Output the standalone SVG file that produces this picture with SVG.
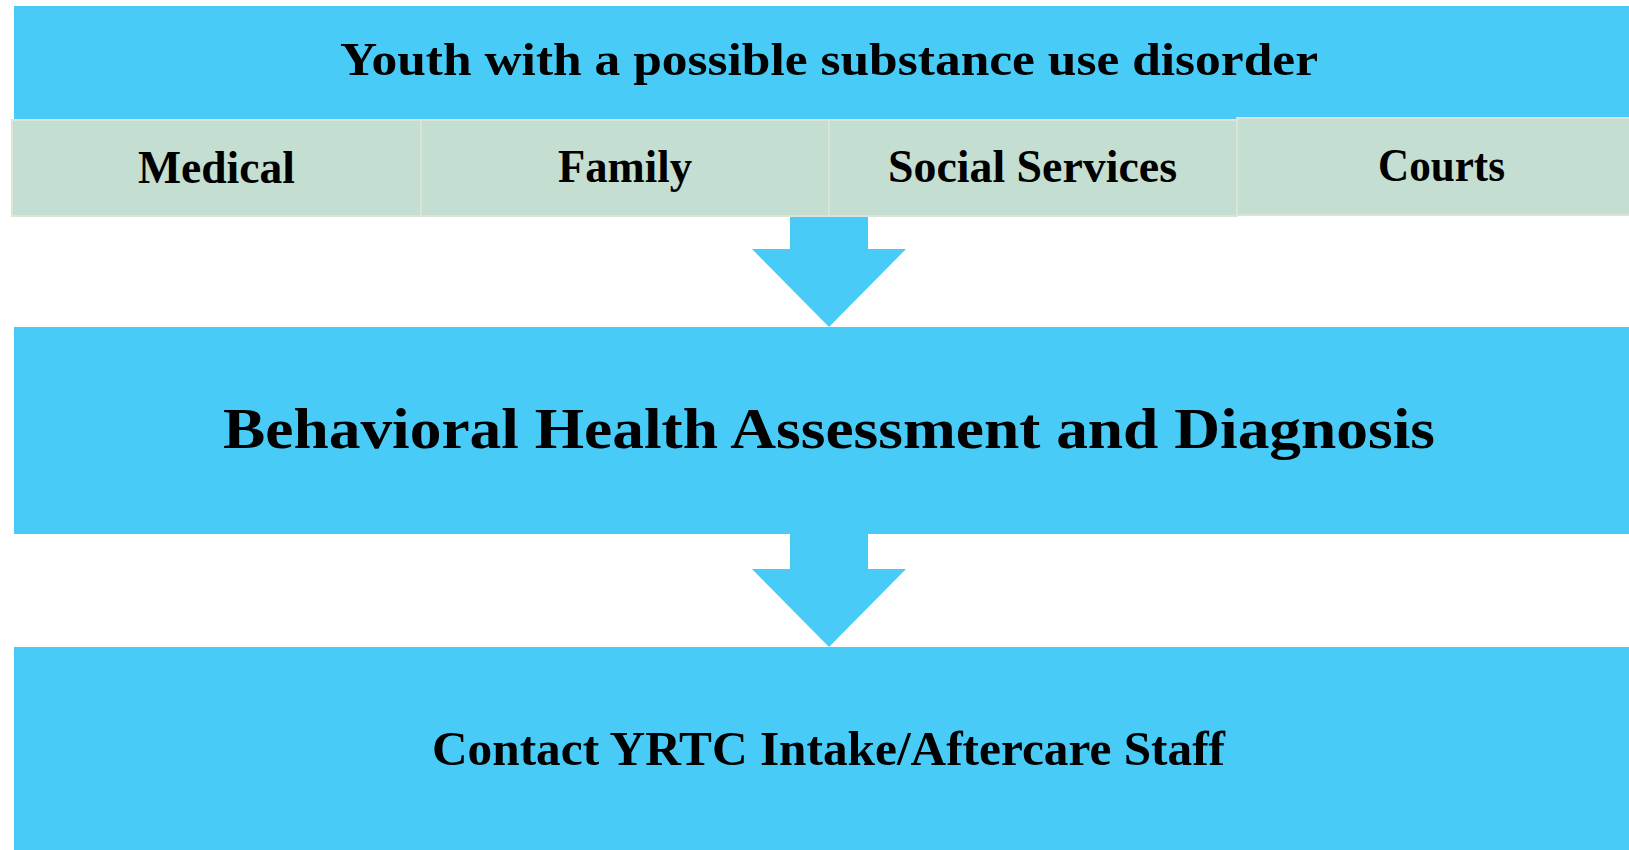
<svg xmlns="http://www.w3.org/2000/svg" width="1629" height="850" viewBox="0 0 1629 850">
<style>
.blue{fill:#48CCF7}
.green{fill:#C4DED2;stroke:#DCE4D6;stroke-width:2}
text{font-family:"Liberation Serif","Times New Roman",serif;font-weight:bold;fill:#000;text-anchor:middle}
</style>
<rect width="1629" height="850" fill="#fff"/>
<g id="connectors">
<polygon class="blue" points="790,210 868,210 868,249 906,249 829,327 752,249 790,249"/>
<polygon class="blue" points="790,530 868,530 868,569 906,569 829,647 752,569 790,569"/>
</g>
<g id="node-youth">
<rect class="blue" x="14" y="6" width="1615" height="114"/>
<text x="829" y="75" font-size="46" textLength="978" lengthAdjust="spacingAndGlyphs">Youth with a possible substance use disorder</text>
</g>
<g id="node-medical">
<rect class="green" x="12" y="120" width="409" height="96"/>
<text x="216.5" y="183" font-size="46" textLength="157" lengthAdjust="spacingAndGlyphs">Medical</text>
</g>
<g id="node-family">
<rect class="green" x="421" y="120" width="408" height="96"/>
<text x="625" y="182" font-size="46" textLength="134" lengthAdjust="spacingAndGlyphs">Family</text>
</g>
<g id="node-social">
<rect class="green" x="829" y="120" width="408" height="96"/>
<text x="1032.5" y="182" font-size="46" textLength="289" lengthAdjust="spacingAndGlyphs">Social Services</text>
</g>
<g id="node-courts">
<rect class="green" x="1237" y="118" width="400" height="97"/>
<text x="1441.5" y="181" font-size="46" textLength="127" lengthAdjust="spacingAndGlyphs">Courts</text>
</g>
<g id="node-assessment">
<rect class="blue" x="14" y="327" width="1615" height="207"/>
<text x="829" y="448" font-size="58" textLength="1212" lengthAdjust="spacingAndGlyphs">Behavioral Health Assessment and Diagnosis</text>
</g>
<g id="node-contact">
<rect class="blue" x="14" y="647" width="1615" height="203"/>
<text x="828.5" y="765" font-size="48" textLength="793" lengthAdjust="spacingAndGlyphs">Contact YRTC Intake/Aftercare Staff</text>
</g>
</svg>
